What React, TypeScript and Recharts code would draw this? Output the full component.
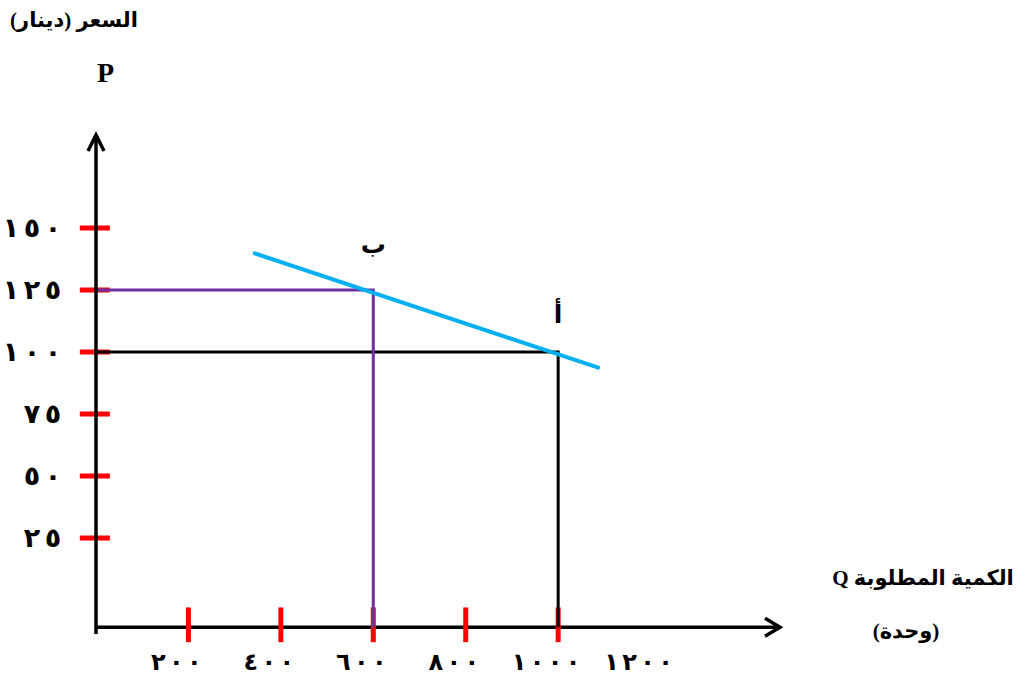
import React from 'react';
import { ComposedChart, Line, XAxis, YAxis, ReferenceLine, ReferenceDot } from 'recharts';

// quantity axis (Q)
const qTicks = [200, 400, 600, 800, 1000, 1200];
const qTickLabels = ['٢٠٠', '٤٠٠', '٦٠٠', '٨٠٠', '١٠٠٠', '١٢٠٠'];
const qRedTicks = [200, 400, 600, 800, 1000];

// price axis (P)
const pTicks = [25, 50, 75, 100, 125, 150];
const pTickLabels = ['٢٥', '٥٠', '٧٥', '١٠٠', '١٢٥', '١٥٠'];

// demand line end points
const demandQ = [340, 1090];
const demandP = [140, 93.5];

// the two points on the curve
const pointA = { q: 1000, p: 100, label: 'أ' };
const pointB = { q: 600, p: 125, label: 'ب' };

// drawing is not to scale: the Q axis sits a bit below P = 0
const Q_DOMAIN: [number, number] = [0, 1480];
const P_DOMAIN: [number, number] = [-13.7, 187.5];
const BASE_P = -11;

const demandData = demandQ.map((q, i) => ({ q, p: demandP[i] }));
const guide = (pt: { q: number; p: number }) => [
  { q: 0, p: pt.p },
  { q: pt.q, p: pt.p },
  { q: pt.q, p: BASE_P },
];

const FONT = '"Liberation Serif", "DejaVu Sans", serif';

// digits are drawn spread out, one tspan each
const spread = (label: string, cx: number, pitch: number, alignRight: boolean) => {
  const chars = Array.from(label);
  const n = chars.length;
  return chars.map((c, i) => {
    const x = alignRight ? cx - (n - 1 - i) * pitch : cx + (i - (n - 1) / 2) * pitch;
    return (
      <tspan key={i} x={x}>
        {c}
      </tspan>
    );
  });
};

const QTick = (props: any) => {
  const { x, index } = props;
  return (
    <text y={670} textAnchor="middle" fontFamily={FONT} fontWeight="bold" fontSize={24} fill="#000">
      {spread(qTickLabels[index], x - 12, 18, false)}
    </text>
  );
};

const PTick = (props: any) => {
  const { y, index } = props;
  return (
    <text y={y} dy="0.33em" textAnchor="middle" fontFamily={FONT} fontWeight="bold" fontSize={27} fill="#000">
      {spread(pTickLabels[index], 53, 21, true)}
    </text>
  );
};

const ArrowRight = (props: any) => {
  const { cx, cy } = props;
  return <path d={`M${cx - 15},${cy - 9} L${cx},${cy} L${cx - 15},${cy + 9}`} stroke="#000" strokeWidth={3.5} fill="none" />;
};

const ArrowUp = (props: any) => {
  const { cx, cy } = props;
  return <path d={`M${cx - 8},${cy + 16} L${cx},${cy} L${cx + 8},${cy + 16}`} stroke="#000" strokeWidth={3.5} fill="none" />;
};

const txt: React.CSSProperties = {
  position: 'absolute',
  fontFamily: FONT,
  fontWeight: 'bold',
  color: '#000',
  whiteSpace: 'nowrap',
  lineHeight: 1,
};

export default function App() {
  return (
    <div style={{ position: 'absolute', left: 0, top: 0, width: 1017, height: 675, background: '#fff' }}>
      <ComposedChart width={1017} height={675} margin={{ top: 135, right: 237, bottom: 11, left: 36 }}>
        <XAxis type="number" dataKey="q" domain={Q_DOMAIN} ticks={qTicks} height={30} axisLine={false} tickLine={false} tick={<QTick />} allowDataOverflow />
        <YAxis type="number" dataKey="p" domain={P_DOMAIN} ticks={pTicks} width={60} axisLine={{ stroke: '#000', strokeWidth: 3.5 }} tickLine={false} tick={<PTick />} allowDataOverflow />

        {/* quantity axis line */}
        <ReferenceLine segment={[{ x: 0, y: BASE_P }, { x: Q_DOMAIN[1], y: BASE_P }]} stroke="#000" strokeWidth={3.5} ifOverflow="visible" />
        <ReferenceDot x={Q_DOMAIN[1]} y={BASE_P} r={0} shape={<ArrowRight />} ifOverflow="visible" />
        <ReferenceDot x={0} y={P_DOMAIN[1]} r={0} shape={<ArrowUp />} ifOverflow="visible" />

        {/* red tick marks */}
        {pTicks.map((p) => (
          <ReferenceLine key={`pt-${p}`} segment={[{ x: -35, y: p }, { x: 30, y: p }]} stroke="#ff0000" strokeWidth={5} ifOverflow="visible" />
        ))}
        {qRedTicks.map((q) => (
          <ReferenceLine key={`qt-${q}`} segment={[{ x: q, y: -17 }, { x: q, y: -3 }]} stroke="#ff0000" strokeWidth={5} ifOverflow="visible" />
        ))}

        {/* guides from the axes to A and B */}
        <Line data={guide(pointA)} dataKey="p" type="linear" stroke="#000" strokeWidth={3} dot={false} isAnimationActive={false} />
        <Line data={guide(pointB)} dataKey="p" type="linear" stroke="#7030a0" strokeWidth={3} dot={false} isAnimationActive={false} />

        {/* demand curve */}
        <Line data={demandData} dataKey="p" type="linear" stroke="#00b0f0" strokeWidth={4} dot={false} isAnimationActive={false} />

        <ReferenceDot x={pointB.q} y={pointB.p} r={0} ifOverflow="visible"
          label={{ value: pointB.label, position: 'top', offset: 37, fontFamily: FONT, fontWeight: 'bold', fontSize: 25, fill: '#000' }} />
        <ReferenceDot x={pointA.q} y={pointA.p} r={0} ifOverflow="visible"
          label={{ value: pointA.label, position: 'top', offset: 29, fontFamily: FONT, fontWeight: 'bold', fontSize: 25, fill: '#000' }} />
      </ComposedChart>

      <div dir="rtl" style={{ ...txt, left: 8, top: 10, width: 132, textAlign: 'center', fontSize: 21 }}>السعر (دينار)</div>
      <div style={{ ...txt, left: 97, top: 59, fontSize: 28 }}>P</div>
      <div dir="rtl" style={{ ...txt, left: 830, top: 568, width: 186, textAlign: 'center', fontSize: 21 }}>الكمية المطلوبة Q</div>
      <div dir="rtl" style={{ ...txt, left: 866, top: 621, width: 80, textAlign: 'center', fontSize: 21 }}>(وحدة)</div>
    </div>
  );
}
